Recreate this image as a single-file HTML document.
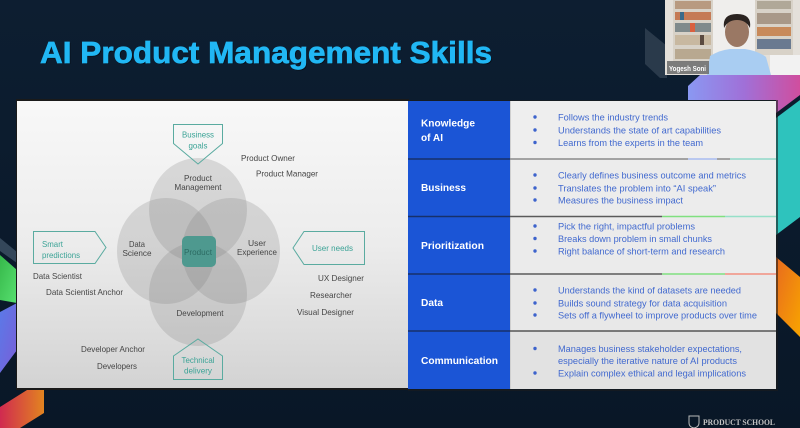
<!DOCTYPE html>
<html><head><meta charset="utf-8"><style>
html,body{margin:0;padding:0;background:#0b1a2b;}
svg{display:block;}
text{font-family:"Liberation Sans",sans-serif;}
</style></head><body>
<svg width="800" height="428" viewBox="0 0 800 428" xmlns="http://www.w3.org/2000/svg">
<defs>
<linearGradient id="bg" x1="0" y1="0" x2="0" y2="1"><stop offset="0" stop-color="#0d1e31"/><stop offset="1" stop-color="#091727"/></linearGradient>
<linearGradient id="panel" x1="0" y1="0" x2="0" y2="1"><stop offset="0" stop-color="#f8f8f8"/><stop offset="0.5" stop-color="#ececec"/><stop offset="1" stop-color="#d3d3d3"/></linearGradient>
<linearGradient id="purp" x1="0" y1="0" x2="1" y2="0"><stop offset="0" stop-color="#8a98f2"/><stop offset="0.5" stop-color="#a070d8"/><stop offset="1" stop-color="#d04e9e"/></linearGradient>
<linearGradient id="orng" x1="0" y1="0" x2="1" y2="1"><stop offset="0" stop-color="#e86a1e"/><stop offset="1" stop-color="#f8a400"/></linearGradient>
<linearGradient id="red" x1="0" y1="0" x2="1" y2="0"><stop offset="0" stop-color="#d02a50"/><stop offset="1" stop-color="#e28420"/></linearGradient>
<linearGradient id="grn" x1="0" y1="0" x2="1" y2="1"><stop offset="0" stop-color="#36b84a"/><stop offset="1" stop-color="#58e070"/></linearGradient>
<linearGradient id="blu" x1="0" y1="0" x2="1" y2="1"><stop offset="0" stop-color="#5a7ae8"/><stop offset="1" stop-color="#7a5ed8"/></linearGradient>
<linearGradient id="cell" x1="0" y1="0" x2="0" y2="1"><stop offset="0" stop-color="#efefef"/><stop offset="1" stop-color="#e3e3e3"/></linearGradient>
</defs>
<rect width="800" height="428" fill="url(#bg)"/>

<!-- left decorations -->
<polygon points="0,238 17,252 17,263 0,251" fill="#34475a"/>
<polygon points="0,255 17,270 17,303 0,300" fill="url(#grn)"/>
<polygon points="0,312 17,303 17,350 0,373" fill="url(#blu)"/>
<polygon points="0,407 27,390 44,390 44,413 20,428 0,428" fill="url(#red)"/>

<!-- top right decorations -->
<polygon points="645,28 667,46 667,78 660,78 645,64" fill="#2a3a4b"/>
<polygon points="700,75 800,75 800,95 776,113 776,100 688,100 688,86" fill="url(#purp)"/>
<polygon points="776,118 800,100 800,217 776,235" fill="#2ec3bd"/>
<polygon points="776,257 800,277 800,337 776,313" fill="url(#orng)"/>

<!-- webcam -->
<rect x="665" y="0" width="135" height="75" fill="#e4e0da"/>
<rect x="673" y="0" width="40" height="62" fill="#d8d2c8"/>
<g>
<rect x="675" y="1" width="36" height="8" fill="#b89a80"/>
<rect x="675" y="12" width="36" height="8" fill="#c57a55"/>
<rect x="675" y="23" width="36" height="9" fill="#7f8a8c"/>
<rect x="675" y="35" width="36" height="10" fill="#c8b8a0"/>
<rect x="675" y="49" width="36" height="10" fill="#b8a890"/>
<rect x="680" y="12" width="4" height="8" fill="#3a6a8a"/>
<rect x="690" y="23" width="5" height="9" fill="#d86040"/>
<rect x="700" y="35" width="4" height="10" fill="#5a4a40"/>
</g>
<rect x="713" y="0" width="42" height="75" fill="#efeeec"/>
<rect x="755" y="0" width="38" height="55" fill="#d8d2c8"/>
<rect x="757" y="1" width="34" height="8" fill="#b0a898"/>
<rect x="757" y="13" width="34" height="11" fill="#a89888"/>
<rect x="757" y="27" width="34" height="9" fill="#c88a5a"/>
<rect x="757" y="39" width="34" height="10" fill="#6a7a90"/>
<rect x="770" y="55" width="30" height="20" fill="#f2f2f2"/>
<path d="M707,75 L710,56 Q720,50 730,49 L745,49 Q758,51 766,57 L771,75 Z" fill="#a9cdf2"/>
<ellipse cx="737" cy="32" rx="12" ry="15" fill="#9a7864"/>
<path d="M724,28 Q722,14 737,14 Q752,14 750,28 Q746,20 737,20 Q728,20 724,28 Z" fill="#2a2320"/>
<rect x="667" y="61" width="42" height="13" fill="#6a6a6a" opacity="0.85"/>
<text x="669" y="71" font-size="7.5" font-weight="bold" fill="#ffffff" textLength="37" lengthAdjust="spacingAndGlyphs">Yogesh Soni</text>

<!-- title -->
<text x="41" y="64" font-size="31" font-weight="bold" fill="#000" opacity="0.5" textLength="452" lengthAdjust="spacingAndGlyphs">AI Product Management Skills</text>
<text x="40" y="63" font-size="31" font-weight="bold" fill="#21b7f4" stroke="#21b7f4" stroke-width="0.7" textLength="452" lengthAdjust="spacingAndGlyphs">AI Product Management Skills</text>

<!-- left panel -->
<rect x="16" y="99" width="393" height="291" fill="#1a1a1a"/>
<rect x="17" y="101" width="391" height="287" fill="url(#panel)"/>

<g fill="#787878" fill-opacity="0.22">
<ellipse cx="198" cy="210" rx="49" ry="52"/>
<ellipse cx="166" cy="251" rx="49" ry="53"/>
<ellipse cx="231" cy="251" rx="49" ry="53"/>
<ellipse cx="198" cy="294" rx="49" ry="52"/>
</g>
<rect x="182" y="236" width="34" height="31" rx="5" fill="#4e998f"/>
<text x="198" y="255" font-size="8.5" fill="#2c6b63" text-anchor="middle" textLength="28" lengthAdjust="spacingAndGlyphs">Product</text>

<g fill="none" stroke="#5aaba0" stroke-width="1">
<polygon points="173.5,124.5 222.5,124.5 222.5,143.5 198,164 173.5,143.5"/>
<polygon points="33.5,231.5 95,231.5 106,247.5 95,263.5 33.5,263.5"/>
<polygon points="364.5,231.5 304,231.5 293,248 304,264.5 364.5,264.5"/>
<polygon points="173.5,379.5 222.5,379.5 222.5,356 198,339 173.5,356"/>
</g>
<g fill="#3ba396" font-size="8.5">
<text x="198" y="137.5" text-anchor="middle" textLength="32" lengthAdjust="spacingAndGlyphs">Business</text>
<text x="198" y="148.5" text-anchor="middle" textLength="19" lengthAdjust="spacingAndGlyphs">goals</text>
<text x="42" y="247" textLength="21" lengthAdjust="spacingAndGlyphs">Smart</text>
<text x="42" y="258" textLength="38" lengthAdjust="spacingAndGlyphs">predictions</text>
<text x="312" y="251" textLength="41" lengthAdjust="spacingAndGlyphs">User needs</text>
<text x="198" y="363" text-anchor="middle" textLength="33" lengthAdjust="spacingAndGlyphs">Technical</text>
<text x="198" y="373.5" text-anchor="middle" textLength="28" lengthAdjust="spacingAndGlyphs">delivery</text>
</g>
<g fill="#454545" font-size="8.5">
<text x="241" y="161" textLength="54" lengthAdjust="spacingAndGlyphs">Product Owner</text>
<text x="256" y="176.5" textLength="62" lengthAdjust="spacingAndGlyphs">Product Manager</text>
<text x="198" y="181" text-anchor="middle" textLength="28" lengthAdjust="spacingAndGlyphs">Product</text>
<text x="198" y="190" text-anchor="middle" textLength="47" lengthAdjust="spacingAndGlyphs">Management</text>
<text x="137" y="247" text-anchor="middle" textLength="16" lengthAdjust="spacingAndGlyphs">Data</text>
<text x="137" y="256" text-anchor="middle" textLength="29" lengthAdjust="spacingAndGlyphs">Science</text>
<text x="257" y="246" text-anchor="middle" textLength="18" lengthAdjust="spacingAndGlyphs">User</text>
<text x="257" y="255" text-anchor="middle" textLength="40" lengthAdjust="spacingAndGlyphs">Experience</text>
<text x="200" y="316" text-anchor="middle" textLength="47" lengthAdjust="spacingAndGlyphs">Development</text>
<text x="33" y="279" textLength="49" lengthAdjust="spacingAndGlyphs">Data Scientist</text>
<text x="46" y="295" textLength="77" lengthAdjust="spacingAndGlyphs">Data Scientist Anchor</text>
<text x="318" y="281" textLength="46" lengthAdjust="spacingAndGlyphs">UX Designer</text>
<text x="310" y="298" textLength="42" lengthAdjust="spacingAndGlyphs">Researcher</text>
<text x="297" y="315" textLength="57" lengthAdjust="spacingAndGlyphs">Visual Designer</text>
<text x="81" y="352" textLength="64" lengthAdjust="spacingAndGlyphs">Developer Anchor</text>
<text x="97" y="369" textLength="40" lengthAdjust="spacingAndGlyphs">Developers</text>
</g>

<!-- table -->
<rect x="408" y="100" width="370" height="291" fill="#1c1c1c" opacity="0.6"/>
<rect x="510" y="101" width="266" height="288" fill="url(#cell)"/>
<rect x="510" y="101" width="266" height="58" fill="#eeeeee"/>
<rect x="510" y="159" width="266" height="57" fill="#ececec"/>
<rect x="510" y="216" width="266" height="58" fill="#ebebeb"/>
<rect x="510" y="274" width="266" height="57" fill="#e8e8e8"/>
<rect x="510" y="331" width="266" height="58" fill="#e2e2e2"/>
<rect x="408" y="101" width="102" height="288" fill="#1b55d6"/>
<line x1="510.5" y1="101" x2="510.5" y2="389" stroke="#cfcfcf" stroke-width="1"/>
<g stroke-width="1.5">
<line x1="408" y1="159" x2="510" y2="159" stroke="#17306a"/>
<line x1="408" y1="216.5" x2="510" y2="216.5" stroke="#17306a"/>
<line x1="408" y1="274" x2="510" y2="274" stroke="#17306a"/>
<line x1="408" y1="331" x2="510" y2="331" stroke="#17306a"/>
<line x1="510" y1="159" x2="688" y2="159" stroke="#8a8a8a"/>
<line x1="688" y1="159" x2="717" y2="159" stroke="#a8bcf0"/>
<line x1="717" y1="159" x2="730" y2="159" stroke="#8a8a8a"/>
<line x1="730" y1="159" x2="776" y2="159" stroke="#8fd8c8"/>
<line x1="510" y1="216.5" x2="662" y2="216.5" stroke="#5a5a5a"/>
<line x1="662" y1="216.5" x2="725" y2="216.5" stroke="#80e080"/>
<line x1="725" y1="216.5" x2="776" y2="216.5" stroke="#96e0c8"/>
<line x1="510" y1="274" x2="662" y2="274" stroke="#5a5a5a"/>
<line x1="662" y1="274" x2="725" y2="274" stroke="#80e080"/>
<line x1="725" y1="274" x2="776" y2="274" stroke="#f29080"/>
<line x1="510" y1="331" x2="776" y2="331" stroke="#555555"/>
</g>
<g fill="#ffffff" font-size="10.5" font-weight="bold">
<text x="421" y="126.5" textLength="54" lengthAdjust="spacingAndGlyphs">Knowledge</text>
<text x="421" y="141" textLength="22" lengthAdjust="spacingAndGlyphs">of AI</text>
<text x="421" y="191" textLength="45" lengthAdjust="spacingAndGlyphs">Business</text>
<text x="421" y="249" textLength="63" lengthAdjust="spacingAndGlyphs">Prioritization</text>
<text x="421" y="306" textLength="22" lengthAdjust="spacingAndGlyphs">Data</text>
<text x="421" y="364" textLength="77" lengthAdjust="spacingAndGlyphs">Communication</text>
</g>
<g fill="#3d63cc">
<circle cx="535" cy="117" r="1.7"/><circle cx="535" cy="130" r="1.7"/><circle cx="535" cy="142.5" r="1.7"/>
<circle cx="535" cy="175" r="1.7"/><circle cx="535" cy="188" r="1.7"/><circle cx="535" cy="200" r="1.7"/>
<circle cx="535" cy="226" r="1.7"/><circle cx="535" cy="238.5" r="1.7"/><circle cx="535" cy="251" r="1.7"/>
<circle cx="535" cy="290" r="1.7"/><circle cx="535" cy="303" r="1.7"/><circle cx="535" cy="315" r="1.7"/>
<circle cx="535" cy="348.5" r="1.7"/><circle cx="535" cy="373" r="1.7"/>
</g>
<g fill="#4169cf" font-size="9.5">
<text x="558" y="120.3" textLength="110" lengthAdjust="spacingAndGlyphs">Follows the industry trends</text>
<text x="558" y="133.3" textLength="163" lengthAdjust="spacingAndGlyphs">Understands the state of art capabilities</text>
<text x="558" y="146" textLength="145" lengthAdjust="spacingAndGlyphs">Learns from the experts in the team</text>
<text x="558" y="178.3" textLength="188" lengthAdjust="spacingAndGlyphs">Clearly defines business outcome and metrics</text>
<text x="558" y="191.3" textLength="158" lengthAdjust="spacingAndGlyphs">Translates the problem into “AI speak”</text>
<text x="558" y="203.6" textLength="125" lengthAdjust="spacingAndGlyphs">Measures the business impact</text>
<text x="558" y="229.6" textLength="137" lengthAdjust="spacingAndGlyphs">Pick the right, impactful problems</text>
<text x="558" y="241.9" textLength="154" lengthAdjust="spacingAndGlyphs">Breaks down problem in small chunks</text>
<text x="558" y="254.6" textLength="167" lengthAdjust="spacingAndGlyphs">Right balance of short-term and research</text>
<text x="558" y="293.6" textLength="183" lengthAdjust="spacingAndGlyphs">Understands the kind of datasets are needed</text>
<text x="558" y="306.3" textLength="169" lengthAdjust="spacingAndGlyphs">Builds sound strategy for data acquisition</text>
<text x="558" y="318.6" textLength="199" lengthAdjust="spacingAndGlyphs">Sets off a flywheel to improve products over time</text>
<text x="558" y="351.9" textLength="184" lengthAdjust="spacingAndGlyphs">Manages business stakeholder expectations,</text>
<text x="558" y="363.9" textLength="179" lengthAdjust="spacingAndGlyphs">especially the iterative nature of AI products</text>
<text x="558" y="376.6" textLength="188" lengthAdjust="spacingAndGlyphs">Explain complex ethical and legal implications</text>
</g>

<!-- logo -->
<path d="M689,416 L699,416 L699,423 Q699,427 694,428 Q689,427 689,423 Z" fill="none" stroke="#b8b8b8" stroke-width="1"/>
<text x="703" y="425" style="font-family:'Liberation Serif',serif;" font-size="8" font-weight="bold" fill="#c4c4c4" textLength="72" lengthAdjust="spacingAndGlyphs">PRODUCT SCHOOL</text>
</svg>
</body></html>
